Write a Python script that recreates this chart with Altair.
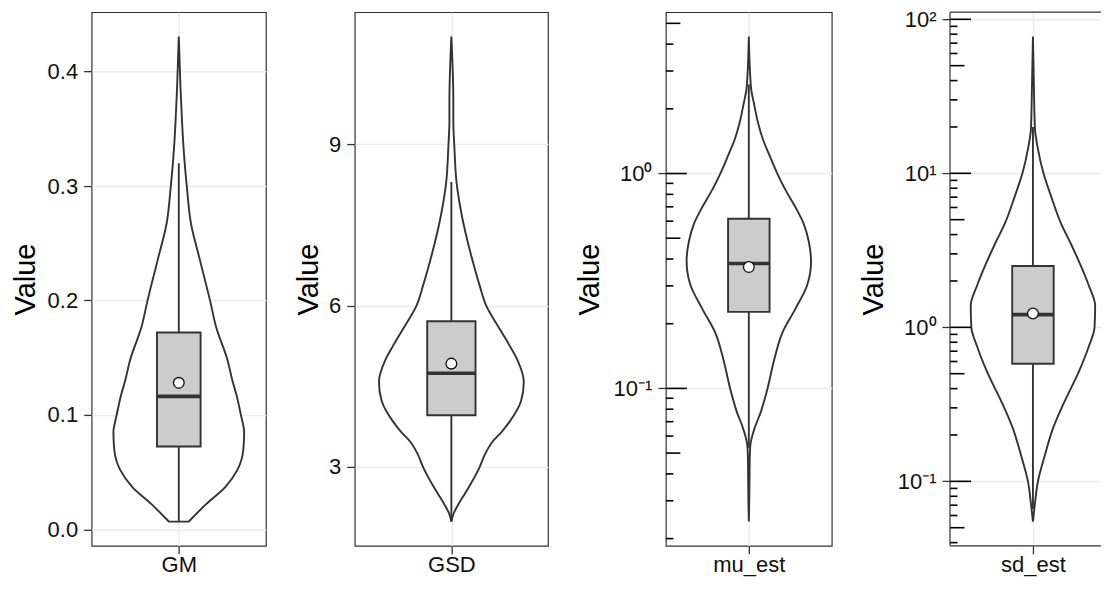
import altair as alt
import pandas as pd
import math

FONT = "Liberation Sans"

# ---- panel names ----
names = ["GM", "GSD", "mu_est", "sd_est"]

# ---- violin outlines: value and relative density ----
gm_val = [0.4307, 0.386, 0.356, 0.341, 0.300, 0.267, 0.237, 0.199, 0.177, 0.148,
          0.130, 0.118, 0.100, 0.085, 0.070, 0.052, 0.037, 0.022, 0.0068]
gm_dens = [0.0, 0.026, 0.05, 0.064, 0.122, 0.187, 0.316, 0.482, 0.57, 0.745,
           0.82, 0.88, 0.95, 1.0, 0.988, 0.897, 0.71, 0.418, 0.152]

gsd_val = [11.01, 9.81, 9.43, 8.97, 8.29, 7.78, 7.21, 6.90, 6.39, 5.975, 5.63,
           5.25, 4.99, 4.58, 4.23, 3.85, 3.66, 3.47, 3.25, 2.985, 2.59, 2.33, 2.14, 1.98]
gsd_dens = [0.0, 0.027, 0.027, 0.041, 0.072, 0.13, 0.221, 0.28, 0.387, 0.489, 0.638,
            0.806, 0.911, 1.0, 0.963, 0.809, 0.70, 0.57, 0.47, 0.387, 0.228, 0.109,
            0.034, 0.0]

mu_val = [4.345, 2.512, 2.094, 1.742, 1.452, 1.211, 1.0, 0.839, 0.700, 0.582, 0.485,
          0.390, 0.302, 0.234, 0.181, 0.135, 0.1, 0.0782, 0.065, 0.0542, 0.0451,
          0.0313, 0.0240]
mu_dens = [0.0, 0.035, 0.086, 0.144, 0.223, 0.334, 0.458, 0.589, 0.746, 0.884, 0.962,
           1.0, 0.937, 0.746, 0.537, 0.405, 0.301, 0.196, 0.091, 0.024, 0.013,
           0.008, 0.0]

sd_val = [77.4, 36.1, 19.5, 14.4, 10.0, 7.06, 4.69, 3.45, 2.55, 1.875, 1.380, 1.0,
          0.748, 0.498, 0.331, 0.220, 0.146, 0.1, 0.0716, 0.0548]
sd_dens = [0.0, 0.016, 0.032, 0.08, 0.169, 0.294, 0.454, 0.615, 0.762, 0.896, 1.0, 0.99,
           0.896, 0.722, 0.509, 0.321, 0.188, 0.08, 0.032, 0.0]

# ---- box-plot statistics ----
whisk_lo = [0.0068, 1.98, 0.053, 0.066]
q1 = [0.0724, 3.96, 0.227, 0.580]
median = [0.1162, 4.74, 0.381, 1.21]
q3 = [0.172, 5.71, 0.616, 2.50]
whisk_hi = [0.320, 8.30, 2.6, 20.0]
mean = [0.128, 4.92, 0.367, 1.23]

# ---- axis ticks / labels ----
gm_ticks = [0.0, 0.1, 0.2, 0.3, 0.4]
gsd_ticks = [3, 6, 9]
mu_ticks = [0.1, 1]
mu_labels = ["10⁻¹", "10⁰"]
sd_ticks = [0.1, 1, 10, 100]
sd_labels = ["10⁻¹", "10⁰", "10¹", "10²"]

# log tick annotations (long = decades, mid = 5x, short = others)
mu_long = [0.1, 1]
mu_mid = [0.05, 0.5, 5]
mu_short = [0.02, 0.03, 0.04, 0.06, 0.07, 0.08, 0.09, 0.2, 0.3, 0.4, 0.6, 0.7,
            0.8, 0.9, 2, 3, 4]
sd_long = [0.1, 1, 10, 100]
sd_mid = [0.05, 0.5, 5, 50]
sd_short = [0.04, 0.06, 0.07, 0.08, 0.09, 0.2, 0.3, 0.4, 0.6, 0.7, 0.8, 0.9,
            2, 3, 4, 6, 7, 8, 9, 20, 30, 40, 60, 70, 80, 90]

vals = [gm_val, gsd_val, mu_val, sd_val]
dens = [gm_dens, gsd_dens, mu_dens, sd_dens]
is_log = [False, False, True, True]
ticks = [gm_ticks, gsd_ticks, mu_ticks, sd_ticks]
labels = [None, None, mu_labels, sd_labels]
logticks = [None, None, (mu_long, mu_mid, mu_short), (sd_long, sd_mid, sd_short)]

# ---- layout/style ----
full_w = [174.4, 193.3, 166, 166]   # full panel widths (x range -0.6..0.6)
shown_w = [174.4, 193.3, 166, 151]  # last panel is cut at the right edge
H = 534
title_x = [-57, -37.7, -67.3, -68]
DARK = "#333333"
VW = 0.45   # violin half-width (max)
BW = 0.15   # box half-width
LW = 1.9


def domain_for(v, log):
    lo, hi = min(v), max(v)
    if log:
        a, b = math.log10(lo), math.log10(hi)
        e = (b - a) * 0.05
        return [10 ** (a - e), 10 ** (b + e)]
    e = (hi - lo) * 0.05
    return [lo - e, hi + e]


def panel(i):
    log = is_log[i]
    dom = domain_for(vals[i], log)
    yscale = alt.Scale(type="log", domain=dom, nice=False) if log else \
        alt.Scale(domain=dom, nice=False, zero=False)
    if labels[i] is not None:
        expr = " : ".join(
            f"abs(datum.value - {t}) < {t}*0.01 ? '{l}'" for t, l in zip(ticks[i], labels[i])
        ) + " : ''"
        fmt = dict(labelExpr=expr)
    else:
        fmt = dict(format=".1f" if i == 0 else "d")
    yaxis = alt.Axis(values=ticks[i], tickSize=8, labelPadding=6, labelFontSize=22,
                     titleFontSize=29, titleX=title_x[i], titleY=H / 2, titleAngle=270,
                     titleBaseline="alphabetic", titleAlign="center",
                     titleFontWeight="normal", titleColor="#000000",
                     labelColor="#111111", grid=True, gridColor="#EBEBEB", gridWidth=1.5,
                     domain=False, tickColor=DARK, tickWidth=1.3, labelOverlap=False,
                     **fmt)
    xmax = -0.6 + 1.2 * shown_w[i] / full_w[i]
    xscale = alt.Scale(domain=[-0.6, xmax], nice=False, zero=False)
    xaxis = alt.Axis(values=[0], labelExpr=f"'{names[i]}'", title="", tickSize=8,
                     labelPadding=1, labelFontSize=22, labelColor="#111111",
                     grid=True, gridColor="#EBEBEB", gridWidth=1.5, domain=False,
                     tickColor=DARK, tickWidth=1.3)

    def Y(field):
        return alt.Y(field, scale=yscale, axis=yaxis, title="Value")

    vdf = pd.DataFrame({"value": vals[i], "dens": dens[i]})
    violin = alt.Chart(vdf).transform_calculate(
        lo=f"-{VW} * datum.dens", hi=f"{VW} * datum.dens"
    ).mark_area(orient="horizontal", interpolate="monotone", fill="white",
                stroke=DARK, strokeWidth=LW).encode(
        y=Y("value:Q"),
        x=alt.X("lo:Q", scale=xscale, axis=xaxis),
        x2="hi:Q",
    )

    bdf = pd.DataFrame({"lo": [whisk_lo[i]], "q1": [q1[i]], "med": [median[i]],
                        "q3": [q3[i]], "hi": [whisk_hi[i]], "mean": [mean[i]]})
    base = alt.Chart(bdf)
    whisker = base.mark_rule(color=DARK, strokeWidth=LW).encode(
        x=alt.X(datum=0, scale=xscale, axis=xaxis), y=Y("lo:Q"), y2="hi:Q")
    box = base.mark_rect(fill="#CCCCCC", stroke=DARK, strokeWidth=LW).encode(
        x=alt.X(datum=-BW, scale=xscale, axis=xaxis), x2=alt.datum(BW),
        y=Y("q1:Q"), y2="q3:Q")
    med = base.mark_rule(color=DARK, strokeWidth=3.6).encode(
        x=alt.X(datum=-BW, scale=xscale, axis=xaxis), x2=alt.datum(BW), y=Y("med:Q"))
    mpt = base.mark_point(shape="circle", filled=True, fill="white", stroke="#111111",
                          strokeWidth=1.3, size=115, opacity=1).encode(
        x=alt.X(datum=0, scale=xscale, axis=xaxis), y=Y("mean:Q"))

    layers = [violin, whisker, box, med, mpt]
    if logticks[i] is not None:
        for tl, ln in zip(logticks[i], [21, 14.5, 7.5]):
            tdf = pd.DataFrame({"t": tl})
            layers.append(alt.Chart(tdf).mark_rule(color="#000000", strokeWidth=1.6).encode(
                y=Y("t:Q"), x=alt.value(0), x2=alt.value(ln)))

    props = dict(width=shown_w[i], height=H)
    if shown_w[i] < full_w[i]:
        # panel cut by the right edge: draw border on three sides only
        one = alt.Chart(pd.DataFrame({"k": [0]}))
        W = shown_w[i]
        layers += [
            one.mark_rule(color=DARK, strokeWidth=1.2).encode(
                x=alt.value(0), x2=alt.value(W), y=alt.value(0)),
            one.mark_rule(color=DARK, strokeWidth=1.2).encode(
                x=alt.value(0), x2=alt.value(W), y=alt.value(H)),
            one.mark_rule(color=DARK, strokeWidth=1.2).encode(
                x=alt.value(0), y=alt.value(0), y2=alt.value(H)),
        ]
        props["view"] = alt.ViewBackground(strokeOpacity=0)
    return alt.layer(*layers).properties(**props)


chart = alt.hconcat(*[panel(i) for i in range(4)], spacing=26.3).properties(
    padding={"left": 2.7, "top": 0, "right": 0, "bottom": 0}
).configure_axis(
    labelFont=FONT, titleFont=FONT
).configure_view(
    stroke=DARK, strokeWidth=1.2
)

chart.save("out.html", embed_options={"renderer": "svg", "actions": False})
